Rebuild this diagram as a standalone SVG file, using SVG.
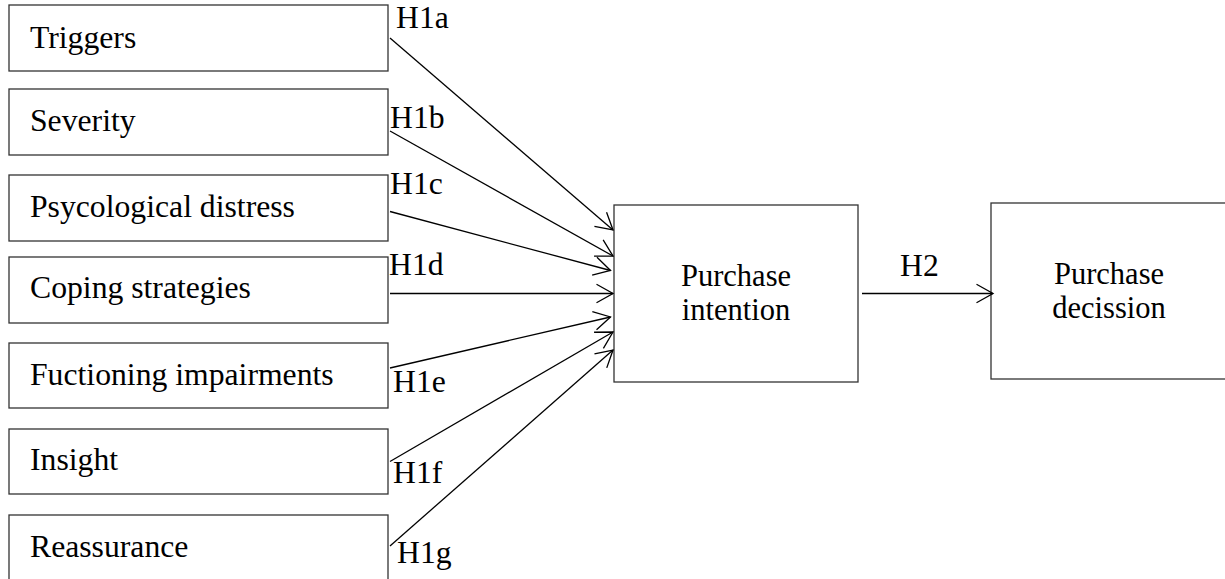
<svg xmlns="http://www.w3.org/2000/svg" width="1225" height="579" viewBox="0 0 1225 579">
<style>
.box{fill:#fff;stroke:#333;stroke-width:1.3}
.t{font-family:"Liberation Serif","Times New Roman",serif;font-size:31.7px;fill:#000}
.c{text-anchor:middle;font-size:30.5px}
.ln{fill:none;stroke:#000;stroke-width:1.3}
</style>
<defs>
<marker id="arr" markerUnits="userSpaceOnUse" viewBox="-20 -12 22 24" refX="0" refY="0" markerWidth="22" markerHeight="24" orient="auto" overflow="visible">
<path d="M -16.5 -9.3 L 0 0 L -16.5 9.3" fill="none" stroke="#000" stroke-width="1.3"/>
</marker>
</defs>
<rect width="1225" height="579" fill="#fff"/>
<g id="triggers"><rect class="box" x="9" y="5" width="379" height="66"/><text class="t" x="30" y="48">Triggers</text></g>
<g id="severity"><rect class="box" x="9" y="89" width="379" height="66"/><text class="t" x="30" y="131">Severity</text></g>
<g id="distress"><rect class="box" x="9" y="175" width="379" height="66"/><text class="t" x="30" y="217">Psycological distress</text></g>
<g id="coping"><rect class="box" x="9" y="257" width="379" height="66"/><text class="t" x="30" y="298">Coping strategies</text></g>
<g id="functioning"><rect class="box" x="9" y="343" width="379" height="65"/><text class="t" x="30" y="385">Fuctioning impairments</text></g>
<g id="insight"><rect class="box" x="9" y="429" width="379" height="65"/><text class="t" x="30" y="470">Insight</text></g>
<g id="reassurance"><rect class="box" x="9" y="515" width="379" height="70"/><text class="t" x="30" y="557">Reassurance</text></g>
<g id="intention"><rect class="box" x="614" y="205" width="244" height="177"/><text class="t c" x="736" y="285.5">Purchase</text><text class="t c" x="736" y="319.5">intention</text></g>
<g id="decision"><rect class="box" x="991" y="203" width="250" height="176"/><text class="t c" x="1109" y="283.5">Purchase</text><text class="t c" x="1109" y="317.5">decission</text></g>
<g id="connectors">
<line class="ln" x1="390" y1="38" x2="613" y2="230" marker-end="url(#arr)"/>
<line class="ln" x1="390" y1="131" x2="613" y2="256" marker-end="url(#arr)"/>
<line class="ln" x1="390" y1="211.5" x2="610.5" y2="270.5" marker-end="url(#arr)"/>
<line class="ln" x1="390" y1="293.5" x2="613" y2="293.5" marker-end="url(#arr)"/>
<line class="ln" x1="390" y1="368" x2="610.5" y2="317" marker-end="url(#arr)"/>
<line class="ln" x1="390" y1="461.5" x2="613" y2="332" marker-end="url(#arr)"/>
<line class="ln" x1="390" y1="546" x2="613" y2="350" marker-end="url(#arr)"/>
<line class="ln" x1="862" y1="293.5" x2="993" y2="293.5" marker-end="url(#arr)"/>
<text class="t" x="396" y="28">H1a</text>
<text class="t" x="390" y="128">H1b</text>
<text class="t" x="390" y="194">H1c</text>
<text class="t" x="389" y="275">H1d</text>
<text class="t" x="393" y="392">H1e</text>
<text class="t" x="393" y="483">H1f</text>
<text class="t" x="397" y="563">H1g</text>
<text class="t" x="900" y="276">H2</text>
</g>
</svg>
